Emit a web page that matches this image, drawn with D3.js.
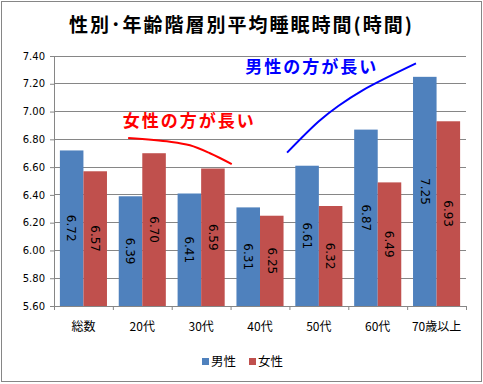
<!DOCTYPE html>
<html>
<head>
<meta charset="utf-8">
<script src="https://cdn.jsdelivr.net/npm/d3@7"></script>
<style>
  body { margin: 0; background: #fff; }
  svg { display: block; }
</style>
</head>
<body>
<div id="chart"></div>
<script>
// data
const categories = ["総数", "20代", "30代", "40代", "50代", "60代", "70歳以上"];
const seriesNames = ["男性", "女性"];
const male = [6.72, 6.39, 6.41, 6.31, 6.61, 6.87, 7.25];
const female = [6.57, 6.70, 6.59, 6.25, 6.32, 6.49, 6.93];
const yTicks = [5.6, 5.8, 6.0, 6.2, 6.4, 6.6, 6.8, 7.0, 7.2, 7.4];
const colors = ["#4F81BD", "#C0504D"];

// hand-drawn notes, in (category index, value) units
const noteFemale = { text: "女性の方が長い", at: [1.17, 6.89],
  path: [[1.26, 6.81], [1.97, 6.783], [2.31, 6.757], [2.65, 6.70], [3.02, 6.622]] };
const noteMale = { text: "男性の方が長い", at: [3.25, 7.278],
  path: [[3.96, 6.704], [4.5, 6.93], [4.83, 7.04], [5.25, 7.155], [6.15, 7.347]] };

const W = 483, H = 384;
const mLeft = 54, mRight = 466, mTop = 56, mBottom = 306;

const svg = d3.select("#chart").append("svg")
  .attr("width", W).attr("height", H);

svg.append("rect")
  .attr("x", 1.5).attr("y", 1.5)
  .attr("width", W - 3).attr("height", H - 4)
  .attr("fill", "#fff").attr("stroke", "#868686");

svg.append("text")
  .attr("x", W / 2).attr("y", 32)
  .attr("text-anchor", "middle")
  .style("font-family", "'Noto Sans CJK JP'")
  .style("font-size", "19px").style("font-weight", "bold")
  .style("letter-spacing", "2px")
  .text("性別･年齢階層別平均睡眠時間(時間)");

const y = d3.scaleLinear().domain([5.6, 7.4]).range([mBottom, mTop]);
const x0 = d3.scaleBand().domain(categories).range([mLeft, mRight]);
const x1 = d3.scaleBand().domain(seriesNames).range([0, x0.bandwidth()]).paddingOuter(0.25);
const xi = d3.scaleLinear().domain([0, 7]).range([mLeft, mRight]);

// gridlines
svg.append("g").selectAll("line").data(yTicks.slice(1)).join("line")
  .attr("x1", mLeft).attr("x2", mRight)
  .attr("y1", d => y(d)).attr("y2", d => y(d))
  .attr("stroke", "#868686").attr("stroke-width", 1)
  .attr("shape-rendering", "crispEdges");

// y axis
const yAxis = svg.append("g")
  .attr("transform", `translate(${mLeft},0)`)
  .call(d3.axisLeft(y).tickValues(yTicks).tickFormat(d3.format(".2f")).tickSize(4).tickPadding(5));
yAxis.select(".domain").attr("stroke", "#868686");
yAxis.selectAll(".tick line").attr("stroke", "#868686");
yAxis.selectAll("text")
  .style("font-family", "'DejaVu Sans'").style("font-size", "10px").attr("fill", "#000");

// x axis
const xAxis = svg.append("g")
  .attr("transform", `translate(0,${mBottom})`)
  .call(d3.axisBottom(xi).tickValues(d3.range(8)).tickSize(4).tickFormat(""));
xAxis.select(".domain").attr("stroke", "#868686");
xAxis.selectAll(".tick line").attr("stroke", "#868686");

svg.append("g").selectAll("text").data(categories).join("text")
  .attr("x", d => x0(d) + x0.bandwidth() / 2)
  .attr("y", 331)
  .attr("text-anchor", "middle")
  .style("font-family", "'Noto Sans CJK JP'").style("font-size", "12px")
  .text(d => d);

// bars
const rows = categories.map((c, i) => ({ cat: c, vals: [male[i], female[i]] }));
const groups = svg.append("g").selectAll("g").data(rows).join("g")
  .attr("transform", d => `translate(${x0(d.cat)},0)`);

groups.selectAll("rect").data(d => d.vals.map((v, k) => ({ s: seriesNames[k], v, k })))
  .join("rect")
  .attr("x", d => x1(d.s))
  .attr("y", d => y(d.v))
  .attr("width", x1.bandwidth())
  .attr("height", d => mBottom - y(d.v))
  .attr("fill", d => colors[d.k]);

groups.selectAll("text").data(d => d.vals.map((v, k) => ({ s: seriesNames[k], v, k })))
  .join("text")
  .attr("transform", d => `translate(${x1(d.s) + x1.bandwidth() / 2},${(y(d.v) + mBottom) / 2}) rotate(90)`)
  .attr("text-anchor", "middle")
  .attr("dy", "0.35em")
  .style("font-family", "'DejaVu Sans'").style("font-size", "12px")
  .text(d => d.v.toFixed(2));

// notes
const line = d3.line().x(d => xi(d[0])).y(d => y(d[1])).curve(d3.curveCatmullRom);
[[noteFemale, "#FF0000"], [noteMale, "#0000FF"]].forEach(([n, c]) => {
  svg.append("path").attr("d", line(n.path))
    .attr("fill", "none").attr("stroke", c).attr("stroke-width", 2);
  svg.append("text")
    .attr("x", xi(n.at[0])).attr("y", y(n.at[1]))
    .attr("fill", c)
    .style("font-family", "'Noto Sans CJK JP'")
    .style("font-size", "17px").style("font-weight", "bold")
    .style("letter-spacing", "2px")
    .text(n.text);
});

// legend
const legend = svg.append("g").attr("transform", "translate(202,362)");
const items = legend.selectAll("g").data(seriesNames).join("g")
  .attr("transform", (d, i) => `translate(${i * 47},0)`);
items.append("rect").attr("x", 0).attr("y", -4).attr("width", 7).attr("height", 7)
  .attr("fill", (d, i) => colors[i]);
items.append("text").attr("x", 9).attr("y", 0).attr("dy", "0.35em")
  .style("font-family", "'Noto Sans CJK JP'").style("font-size", "12.5px")
  .text(d => d);
</script>
</body>
</html>
